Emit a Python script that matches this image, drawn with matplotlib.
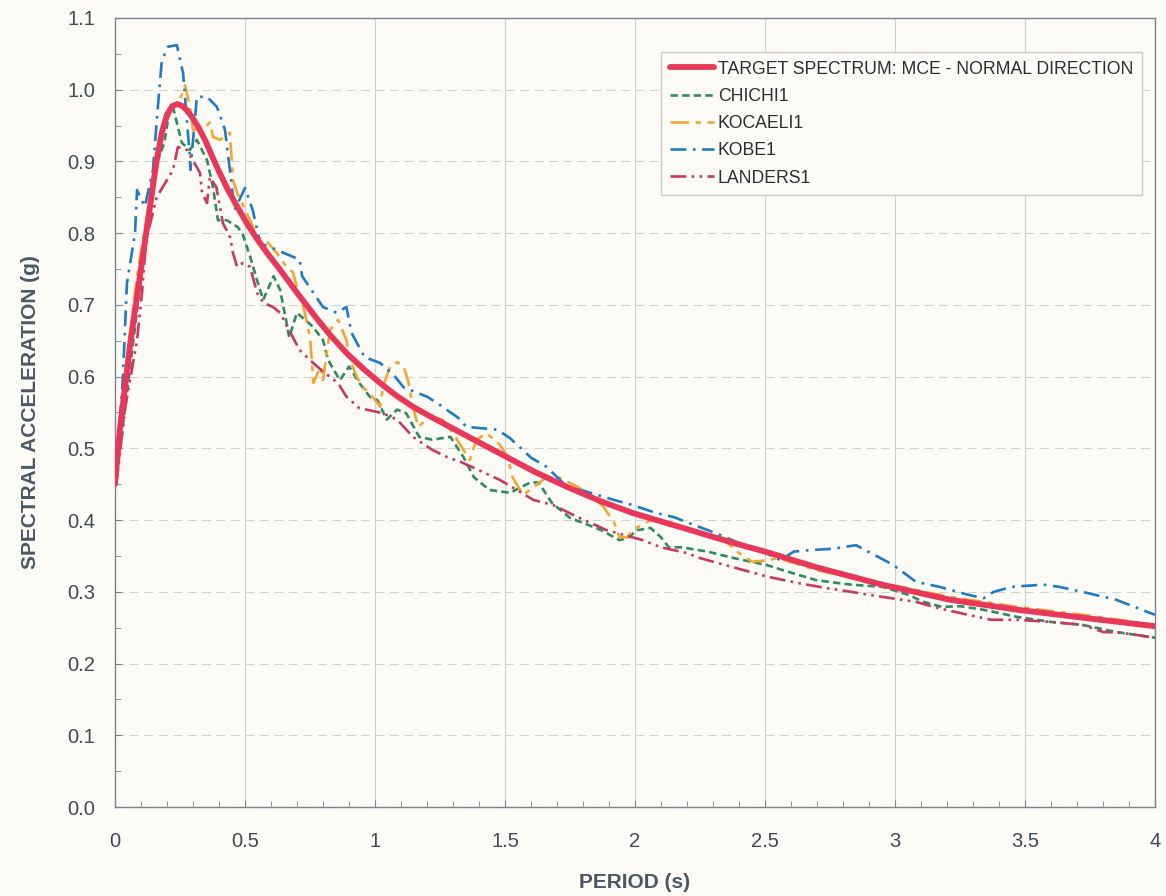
import numpy as np
import matplotlib
matplotlib.use("Agg")
import matplotlib.pyplot as plt
from matplotlib.ticker import MultipleLocator

# ---- data (period s, Sa g) ----
target_t = [0, 0.02, 0.04, 0.06, 0.08, 0.10, 0.12, 0.14, 0.16, 0.18, 0.20, 0.22, 0.24, 0.26,
            0.28, 0.30, 0.325, 0.35, 0.375, 0.40, 0.435, 0.47, 0.51, 0.55, 0.59, 0.635, 0.70,
            0.763, 0.825, 0.89, 0.955, 1.02, 1.08, 1.146, 1.21, 1.277, 1.365, 1.48, 1.61,
            1.74, 1.87, 1.99, 2.12, 2.25, 2.38, 2.51, 2.70, 2.95, 3.21, 3.47, 3.72, 4.0]
target_sa = [0.45, 0.53, 0.59, 0.65, 0.70, 0.75, 0.80, 0.85, 0.90, 0.94, 0.965, 0.977, 0.98, 0.977,
             0.97, 0.96, 0.945, 0.927, 0.906, 0.886, 0.86, 0.837, 0.812, 0.79, 0.77, 0.749, 0.717,
             0.687, 0.659, 0.633, 0.611, 0.591, 0.574, 0.558, 0.545, 0.532, 0.515, 0.493, 0.468,
             0.446, 0.426, 0.41, 0.396, 0.382, 0.368, 0.355, 0.334, 0.31, 0.289, 0.275, 0.264, 0.252]

chichi_t = [0, 0.02, 0.058, 0.096, 0.12, 0.146, 0.19, 0.21, 0.223, 0.257, 0.288, 0.315, 0.354,
            0.377, 0.396, 0.43, 0.47, 0.49, 0.52, 0.55, 0.57, 0.61, 0.635, 0.66, 0.67, 0.70,
            0.76, 0.80, 0.82, 0.865, 0.90, 0.94, 0.98, 1.01, 1.045, 1.085, 1.12, 1.17, 1.22,
            1.29, 1.34, 1.38, 1.44, 1.52, 1.6, 1.63, 1.68, 1.75, 1.80, 1.87, 1.94, 1.97, 2.01,
            2.06, 2.1, 2.13, 2.18, 2.28, 2.38, 2.51, 2.57, 2.70, 2.83, 2.95, 3.05, 3.11, 3.18,
            3.25, 3.34, 3.47, 3.6, 3.72, 3.85, 4.0]
chichi_sa = [0.45, 0.50, 0.613, 0.725, 0.79, 0.884, 0.926, 0.972, 0.976, 0.926, 0.916, 0.93, 0.902,
             0.864, 0.818, 0.818, 0.809, 0.80, 0.767, 0.73, 0.707, 0.74, 0.721, 0.675, 0.655, 0.689,
             0.67, 0.651, 0.623, 0.595, 0.614, 0.591, 0.572, 0.567, 0.54, 0.554, 0.549, 0.516, 0.512,
             0.516, 0.488, 0.46, 0.442, 0.438, 0.453, 0.452, 0.424, 0.403, 0.396, 0.386, 0.372, 0.375, 0.386,
             0.389, 0.376, 0.362, 0.362, 0.356, 0.347, 0.337, 0.33, 0.316, 0.31, 0.307, 0.296, 0.286, 0.279,
             0.28, 0.275, 0.265, 0.258, 0.254, 0.244, 0.236]

kocaeli_t = [0, 0.027, 0.058, 0.085, 0.12, 0.146, 0.185, 0.223, 0.25, 0.27, 0.288, 0.30, 0.335,
             0.365, 0.377, 0.405, 0.442, 0.454, 0.47, 0.52, 0.546, 0.585, 0.623, 0.66, 0.685,
             0.705, 0.725, 0.75, 0.757, 0.763, 0.79, 0.80, 0.827, 0.858, 0.89, 0.904, 0.93,
             0.955, 0.99, 1.02, 1.03, 1.058, 1.085, 1.11, 1.127, 1.146, 1.166, 1.21, 1.26, 1.3,
             1.34, 1.365, 1.39, 1.43, 1.48, 1.51, 1.53, 1.57, 1.61, 1.66, 1.71, 1.78, 1.83, 1.88,
             1.92, 1.94, 1.97, 1.99, 2.06, 2.12, 2.2, 2.28, 2.35, 2.40, 2.45, 2.51, 2.55, 2.70,
             2.95, 3.21, 3.47, 3.72, 4.0]
kocaeli_sa = [0.45, 0.558, 0.66, 0.74, 0.818, 0.878, 0.944, 0.976, 0.986, 1.006, 0.976, 0.944, 0.944,
              0.954, 0.934, 0.93, 0.94, 0.874, 0.856, 0.818, 0.795, 0.788, 0.772, 0.753, 0.745,
              0.717, 0.697, 0.655, 0.623, 0.591, 0.614, 0.595, 0.665, 0.679, 0.651, 0.623, 0.60,
              0.585, 0.572, 0.558, 0.585, 0.614, 0.62, 0.614, 0.595, 0.558, 0.53, 0.544, 0.54, 0.521,
              0.498, 0.484, 0.512, 0.521, 0.505, 0.488, 0.459, 0.435, 0.446, 0.46, 0.459, 0.446, 0.435, 0.418,
              0.396, 0.376, 0.376, 0.386, 0.40, 0.396, 0.386, 0.379, 0.37, 0.354, 0.342, 0.344, 0.347, 0.33,
              0.312, 0.293, 0.279, 0.268, 0.254]

kobe_t = [0, 0.03, 0.046, 0.077, 0.085, 0.115, 0.146, 0.165, 0.18, 0.204, 0.238, 0.262, 0.288,
          0.29, 0.315, 0.354, 0.392, 0.423, 0.442, 0.46, 0.50, 0.53, 0.558, 0.62, 0.71, 0.72,
          0.80, 0.853, 0.89, 0.91, 0.96, 1.02, 1.077, 1.11, 1.2, 1.24, 1.33, 1.35, 1.47, 1.52,
          1.6, 1.66, 1.74, 1.81, 1.92, 1.99, 2.08, 2.15, 2.25, 2.31, 2.40, 2.48, 2.56, 2.61,
          2.67, 2.76, 2.85, 2.97, 3.01, 3.08, 3.17, 3.28, 3.34, 3.38, 3.45, 3.57, 3.63, 3.72,
          3.85, 3.97, 4.0]
kobe_sa = [0.45, 0.595, 0.73, 0.80, 0.86, 0.837, 0.888, 0.976, 1.04, 1.06, 1.062, 1.023, 0.906,
           0.888, 0.99, 0.99, 0.976, 0.944, 0.888, 0.832, 0.863, 0.832, 0.786, 0.777, 0.763, 0.74,
           0.697, 0.689, 0.697, 0.661, 0.627, 0.619, 0.60, 0.585, 0.572, 0.563, 0.54, 0.53, 0.526, 0.514,
           0.487, 0.474, 0.446, 0.44, 0.428, 0.421, 0.41, 0.404, 0.39, 0.382, 0.368, 0.358, 0.344, 0.356,
           0.358, 0.36, 0.365, 0.342, 0.333, 0.314, 0.307, 0.296, 0.291, 0.30, 0.307, 0.31, 0.307, 0.30,
           0.289, 0.272, 0.268]

landers_t = [0, 0.008, 0.04, 0.085, 0.104, 0.12, 0.16, 0.2, 0.223, 0.242, 0.277, 0.327, 0.335,
             0.354, 0.365, 0.39, 0.415, 0.442, 0.454, 0.47, 0.49, 0.52, 0.546, 0.57, 0.608, 0.635,
             0.71, 0.75, 0.80, 0.858, 0.89, 0.94, 0.98, 1.03, 1.085, 1.146, 1.22, 1.276, 1.33,
             1.415, 1.48, 1.61, 1.685, 1.78, 1.83, 1.89, 2.03, 2.1, 2.2, 2.25, 2.32, 2.44, 2.51,
             2.63, 2.74, 2.83, 2.95, 3.08, 3.17, 3.28, 3.37, 3.47, 3.6, 3.72, 3.8, 3.87, 4.0]
landers_sa = [0.45, 0.46, 0.558, 0.651, 0.717, 0.79, 0.85, 0.874, 0.888, 0.92, 0.916, 0.884, 0.856,
              0.842, 0.878, 0.864, 0.814, 0.795, 0.772, 0.753, 0.758, 0.753, 0.717, 0.703, 0.697, 0.689,
              0.637, 0.623, 0.607, 0.591, 0.572, 0.556, 0.553, 0.549, 0.54, 0.516, 0.498, 0.488, 0.481,
              0.467, 0.456, 0.428, 0.421, 0.404, 0.396, 0.386, 0.372, 0.362, 0.354, 0.347, 0.34, 0.328, 0.321,
              0.312, 0.305, 0.30, 0.293, 0.286, 0.277, 0.268, 0.261, 0.261, 0.258, 0.254, 0.244, 0.243, 0.236]

labels = ["TARGET SPECTRUM: MCE - NORMAL DIRECTION", "CHICHI1", "KOCAELI1", "KOBE1", "LANDERS1"]

bg = "#fcfbf6"
txt = "#3d4a57"
plt.rcParams["font.family"] = ["Liberation Sans", "DejaVu Sans"]

fig = plt.figure(figsize=(11.66, 8.96), dpi=100, facecolor=bg)
ax = fig.add_axes([0.0986, 0.0993, 0.892, 0.8807], facecolor=bg)

ax.plot(chichi_t, chichi_sa, color="#2e8b62", lw=1.9, dashes=(2.8, 1.6), label=labels[1], zorder=3)
ax.plot(kocaeli_t, kocaeli_sa, color="#f5a632", lw=1.9, dashes=(7, 2.5, 2, 2.5), label=labels[2], zorder=3)
ax.plot(kobe_t, kobe_sa, color="#1e7bc4", lw=1.9, dashes=(6, 2.5, 1, 2.5), label=labels[3], zorder=3)
ax.plot(landers_t, landers_sa, color="#c9385e", lw=1.9, dashes=(6, 2, 1, 2, 1, 2), label=labels[4], zorder=3)
ax.plot(target_t, target_sa, color="#e8385a", lw=4.2, solid_capstyle="round",
        solid_joinstyle="round", label=labels[0], zorder=4)

ax.set_xlim(0, 4)
ax.set_ylim(0, 1.1)
ax.xaxis.set_minor_locator(MultipleLocator(0.1))
ax.yaxis.set_minor_locator(MultipleLocator(0.05))
ax.set_xticks(np.arange(0, 4.01, 0.5))
ax.set_xticklabels(["0", "0.5", "1", "1.5", "2", "2.5", "3", "3.5", "4"])
ax.set_yticks(np.arange(0, 1.101, 0.1))
ax.set_yticklabels([f"{v:.1f}" for v in np.arange(0, 1.101, 0.1)])

ax.tick_params(axis="both", which="major", direction="in", length=5, color="#7a8590",
               labelsize=14.5, labelcolor=txt)
ax.tick_params(axis="x", which="major", pad=18)
ax.tick_params(axis="y", which="major", pad=14)
ax.tick_params(axis="both", which="minor", direction="in", length=4, color="#7a8590")

ax.grid(axis="x", which="major", color="#cfcfcf", lw=0.8, ls="-")
ax.grid(axis="y", which="major", color="#d2d2d2", lw=0.8, ls=(0, (8, 5)))
ax.set_axisbelow(True)
for s in ax.spines.values():
    s.set_color("#7a8590")
    s.set_linewidth(1.0)

ax.set_xlabel("PERIOD (s)", fontsize=15, fontweight="bold", color="#4a5866", labelpad=16)
ax.set_ylabel("SPECTRAL ACCELERATION (g)", fontsize=15, fontweight="bold", color="#4a5866", labelpad=20)

h, l = ax.get_legend_handles_labels()
order = [4, 0, 1, 2, 3]
leg = ax.legend([h[i] for i in order], [l[i] for i in order], loc="upper right",
                bbox_to_anchor=(0.9875, 0.957), borderaxespad=0, fontsize=12.7,
                handlelength=2.5, handletextpad=0.2, labelspacing=0.58, borderpad=0.5,
                fancybox=False, framealpha=1, facecolor=bg, edgecolor="#cccccc")
for t in leg.get_texts():
    t.set_color("#2b2f33")

fig.savefig("out.png", dpi=100, facecolor=bg)
